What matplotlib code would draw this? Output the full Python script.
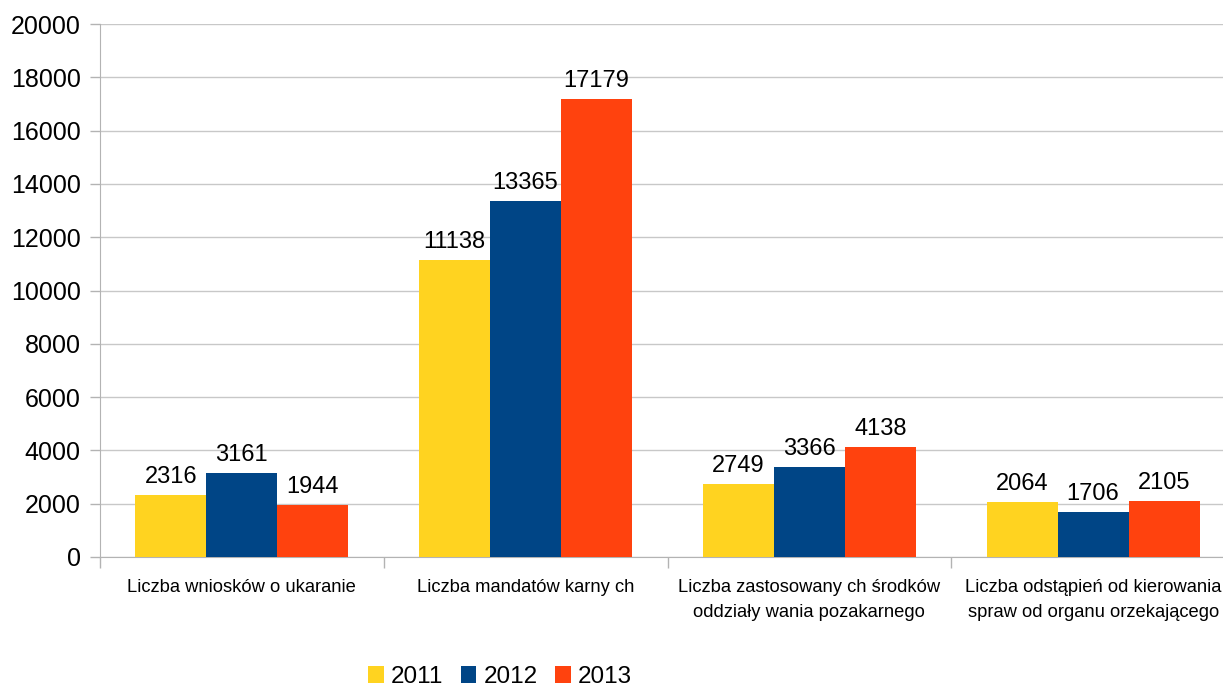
import matplotlib
matplotlib.use("Agg")
import matplotlib.pyplot as plt
import numpy as np

plt.rcParams['font.family'] = ['Liberation Sans', 'DejaVu Sans']

categories = ["Liczba wniosków o ukaranie",
              "Liczba mandatów karny ch",
              "Liczba zastosowany ch środków\noddziały wania pozakarnego",
              "Liczba odstąpień od kierowania\nspraw od organu orzekającego"]
years = ["2011", "2012", "2013"]
v2011 = [2316, 11138, 2749, 2064]
v2012 = [3161, 13365, 3366, 1706]
v2013 = [1944, 17179, 4138, 2105]
colors = ["#FFD320", "#004586", "#FF420E"]

fig = plt.figure(figsize=(12.23, 6.87), dpi=100)
ax = fig.add_axes([100/1223, 1-557/687, (1223-100)/1223, (557-24)/687])

x = np.arange(len(categories)) + 0.5
w = 0.25
grey = "#b3b3b3"
for i, (vals, c, lab) in enumerate(zip([v2011, v2012, v2013], colors, years)):
    bars = ax.bar(x + (i - 1) * w, vals, w, color=c, label=lab, zorder=3)
    for b, v in zip(bars, vals):
        ax.annotate(str(v), (b.get_x() + b.get_width()/2, v), xytext=(0, 5),
                    textcoords="offset points", ha="center", va="bottom", fontsize=17)

ax.set_xlim(0, (1223-100)/283.75)
ax.set_ylim(0, 20000)
ax.set_yticks(np.arange(0, 20001, 2000))
ax.yaxis.grid(True, color="#c8c8c8", linewidth=1, zorder=0)
ax.tick_params(axis='y', labelsize=18, length=7, color=grey, width=1, pad=7)
ax.set_xticks(np.arange(0, 4))
ax.set_xticklabels([])
ax.set_xticks(x, minor=True)
ax.set_xticklabels(categories, minor=True, fontsize=13.2, linespacing=1.6)
ax.tick_params(axis='x', which='major', length=8, color=grey, width=1)
ax.tick_params(axis='x', which='minor', length=0, pad=16)
for s in ['top', 'right']:
    ax.spines[s].set_visible(False)
ax.spines['left'].set_color(grey)
ax.spines['bottom'].set_color(grey)

leg = fig.legend(loc='center', bbox_to_anchor=(500/1223, 1-677/687), ncol=3, frameon=False,
                 fontsize=17.5, handlelength=0.65, handleheight=0.65, handletextpad=0.3,
                 columnspacing=0.7)

fig.savefig("out.png", dpi=100)
